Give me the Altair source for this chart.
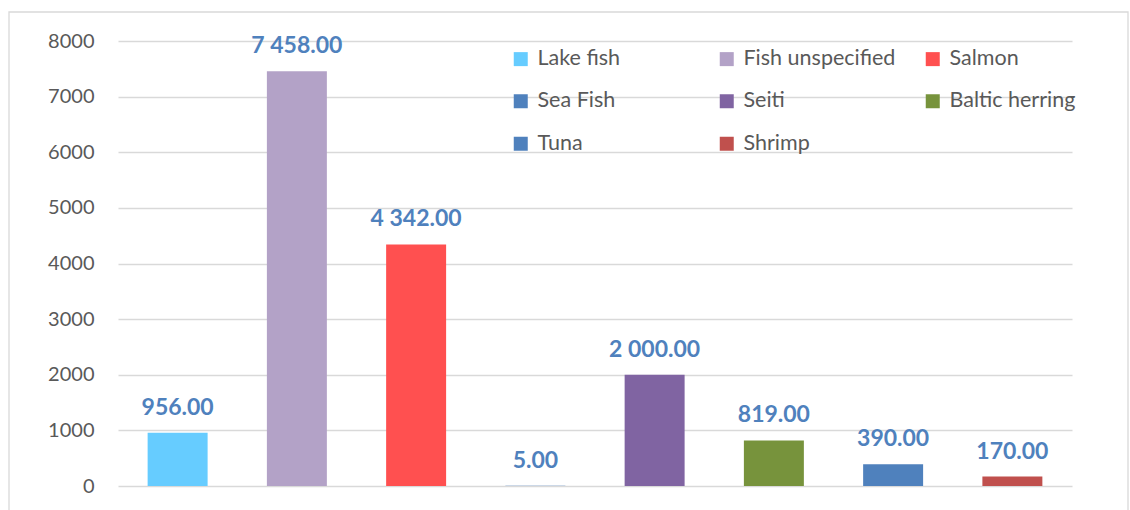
import altair as alt
import pandas as pd

categories = ["Lake fish", "Fish unspecified", "Salmon", "Sea Fish", "Seiti",
              "Baltic herring", "Tuna", "Shrimp"]
values = [956, 7458, 4342, 5, 2000, 819, 390, 170]
colors = ["#66CCFF", "#B3A2C7", "#FF5050", "#4F81BD", "#8064A2",
          "#77933C", "#4F81BD", "#C0504D"]
y_ticks = [0, 1000, 2000, 3000, 4000, 5000, 6000, 7000, 8000]

labels = [f"{v:,.2f}".replace(",", " ") for v in values]
df = pd.DataFrame({"cat": categories, "value": values, "label": labels})

W, H = 954, 445
FONT = "Lato"

x_enc = alt.X("cat:N", sort=categories, axis=None,
              scale=alt.Scale(paddingInner=0.497, paddingOuter=0.2485))

bars = alt.Chart(df).mark_bar().encode(
    x=x_enc,
    y=alt.Y("value:Q",
            scale=alt.Scale(domain=[0, 8000], nice=False),
            axis=alt.Axis(values=y_ticks, title=None, domain=False, ticks=False,
                          format="d",
                          grid=True, gridColor="#D9D9D9", gridWidth=1.5,
                          labelFont=FONT, labelFontSize=20, labelColor="#595959",
                          labelPadding=24)),
    color=alt.Color("cat:N", sort=categories,
                    scale=alt.Scale(domain=categories, range=colors),
                    legend=alt.Legend(title=None, orient="none", legendX=392, legendY=7,
                                      direction="horizontal",
                                      columns=3, gridAlign="all", columnPadding=26,
                                      rowPadding=19.5, padding=0,
                                      symbolType="square", symbolSize=196,
                                      symbolStrokeWidth=0, labelOffset=6,
                                      labelFont=FONT, labelFontSize=21.5,
                                      labelColor="#595959", labelLimit=400)),
)

text = alt.Chart(df).mark_text(font=FONT, fontSize=23, fontWeight="bold",
                               color="#4F81BD", baseline="alphabetic", dy=-18).encode(
    x=x_enc,
    y=alt.Y("value:Q"),
    text="label:N",
)

border = alt.Chart(pd.DataFrame({"a": [0]})).mark_rect(
    fillOpacity=0, stroke="#D9D9D9", strokeWidth=1.3).encode(
    x=alt.value(-109), x2=alt.value(1010), y=alt.value(-29), y2=alt.value(520))

chart = alt.layer(border, bars, text).properties(
    width=W, height=H,
    autosize=alt.AutoSizeParams(type="none"),
    padding={"left": 118, "top": 41, "right": 58, "bottom": 24},
    background="white",
).configure_view(stroke=None)

chart.save("out.html", embed_options={"renderer": "svg", "actions": False})
